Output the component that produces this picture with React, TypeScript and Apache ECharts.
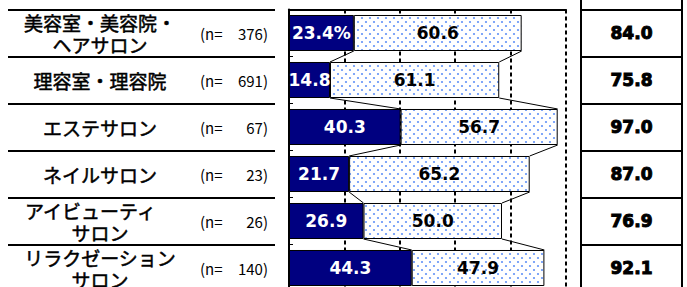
import React, { useEffect, useRef } from "react";
import * as echarts from "echarts";

const categories = [
  "美容室・美容院・\nヘアサロン",
  "理容室・理容院",
  "エステサロン",
  "ネイルサロン",
  "アイビューティ　\nサロン",
  "リラクゼーション\nサロン",
];
const sampleSizes = [376, 691, 67, 23, 26, 140];
const strongValues = [23.4, 14.8, 40.3, 21.7, 26.9, 44.3];
const weakValues = [60.6, 61.1, 56.7, 65.2, 50.0, 47.9];
const totals = [84.0, 75.8, 97.0, 87.0, 76.9, 92.1];
const xMin = 0;
const xMax = 100;
const xStep = 20;

const BAR_RATIO = 0.766;
const NUM_FONT = "'DejaVu Sans', sans-serif";
const JP_FONT = "'Noto Sans CJK JP', sans-serif";

function makeDots(): string {
  const c = document.createElement("canvas");
  c.width = 8;
  c.height = 8;
  const ctx = c.getContext("2d")!;
  ctx.fillStyle = "#ffffff";
  ctx.fillRect(0, 0, 8, 8);
  ctx.fillStyle = "#6292f7";
  [
    [2, 2],
    [6, 6],
  ].forEach(([x, y]) => {
    ctx.beginPath();
    ctx.arc(x, y, 1.1, 0, Math.PI * 2);
    ctx.fill();
  });
  return c.toDataURL();
}

export default function App() {
  const ref = useRef<HTMLDivElement>(null);
  useEffect(() => {
    if (!ref.current) return;
    const chart = echarts.init(ref.current, undefined, { renderer: "svg" });
    const dots = makeDots();
    const connectorData = strongValues.slice(0, -1).map((s, i) => [
      s,
      s + weakValues[i],
      i,
      strongValues[i + 1],
      strongValues[i + 1] + weakValues[i + 1],
      i + 1,
    ]);
    const black = "#000";
    const option: any = {
      animation: false,
      backgroundColor: "#fff",
      grid: [
        { left: 289, top: 9.5, width: 277, height: 282, outerBoundsMode: "none", containLabel: false },
        { left: 8, top: 9.5, width: 267, height: 282, outerBoundsMode: "none", containLabel: false },
        {
          left: 581,
          top: -37.5,
          width: 101,
          height: 329,
          show: true,
          borderColor: black,
          borderWidth: 2,
          backgroundColor: "transparent",
          outerBoundsMode: "none",
          containLabel: false,
        },
      ],
      xAxis: [
        {
          gridIndex: 0,
          type: "value",
          position: "top",
          min: xMin,
          max: xMax,
          interval: xStep,
          axisLine: { show: true, lineStyle: { color: black, width: 2 } },
          axisTick: { show: false },
          axisLabel: { show: false },
          splitLine: {
            show: true,
            lineStyle: { color: black, width: 2, type: [4, 3] },
          },
        },
        { gridIndex: 1, type: "value", show: false },
        { gridIndex: 2, type: "value", show: false },
      ],
      yAxis: [
        {
          gridIndex: 0,
          type: "category",
          data: categories,
          inverse: true,
          axisLine: { show: true, lineStyle: { color: black, width: 2 } },
          axisTick: {
            show: true,
            inside: true,
            length: 4,
            interval: 0,
            lineStyle: { color: black, width: 1 },
          },
          splitLine: { show: false },
          axisLabel: {
            show: true,
            interval: 0,
            margin: 189,
            align: "center",
            fontSize: 19,
            lineHeight: 22,
            color: black,
            textBorderColor: black,
            textBorderWidth: 0.5,
            fontFamily: JP_FONT,
          },
        },
        {
          gridIndex: 0,
          type: "category",
          data: sampleSizes.map(String),
          inverse: true,
          position: "left",
          axisLine: { show: false },
          axisTick: { show: false },
          splitLine: { show: false },
          axisLabel: {
            show: true,
            interval: 0,
            margin: 21,
            align: "right",
            formatter: (v: string) => `{p|(n=}{v|${v}}{q|)}`,
            rich: {
              p: { width: 28, align: "left", fontSize: 15, color: black, fontFamily: JP_FONT },
              v: { width: 35, align: "right", fontSize: 15, color: black, fontFamily: JP_FONT },
              q: { fontSize: 15, color: black, fontFamily: JP_FONT },
            },
          },
        },
        {
          gridIndex: 1,
          type: "category",
          data: categories,
          inverse: true,
          axisLine: { show: false },
          axisTick: { show: false },
          axisLabel: { show: false },
          splitLine: { show: true, interval: 0, lineStyle: { color: black, width: 2 } },
        },
        {
          gridIndex: 2,
          type: "category",
          data: ["", ...totals.map((t) => t.toFixed(1))],
          inverse: true,
          axisLine: { show: false },
          axisTick: { show: false },
          splitLine: { show: true, interval: 0, lineStyle: { color: black, width: 2 } },
          axisLabel: {
            show: true,
            interval: 0,
            inside: true,
            margin: 50.5,
            align: "center",
            fontFamily: NUM_FONT,
            fontWeight: "bold",
            fontSize: 17,
            color: black,
            textBorderColor: black,
            textBorderWidth: 1,
          },
        },
      ],
      series: [
        {
          type: "bar",
          name: "strong",
          stack: "total",
          xAxisIndex: 0,
          yAxisIndex: 0,
          barWidth: `${BAR_RATIO * 100}%`,
          data: strongValues,
          itemStyle: { color: "#000080", borderColor: black, borderWidth: 1 },
          label: {
            show: true,
            position: "inside",
            color: "#fff",
            fontFamily: NUM_FONT,
            fontWeight: "bold",
            fontSize: 17,
            formatter: (p: any) =>
              p.dataIndex === 0 ? `${p.value.toFixed(1)}%` : p.value.toFixed(1),
          },
          z: 3,
        },
        {
          type: "bar",
          name: "weak",
          stack: "total",
          xAxisIndex: 0,
          yAxisIndex: 0,
          barWidth: `${BAR_RATIO * 100}%`,
          data: weakValues,
          itemStyle: {
            color: { image: dots, repeat: "repeat", imageWidth: 8, imageHeight: 8 },
            borderColor: black,
            borderWidth: 1,
          },
          label: {
            show: true,
            position: "inside",
            color: black,
            fontFamily: NUM_FONT,
            fontWeight: "bold",
            fontSize: 17,
            formatter: (p: any) => p.value.toFixed(1),
          },
          z: 3,
        },
        {
          type: "custom",
          xAxisIndex: 0,
          yAxisIndex: 0,
          clip: false,
          z: 4,
          encode: { x: [0, 1, 3, 4], y: [2, 5] },
          data: connectorData,
          renderItem: (params: any, api: any) => {
            const i = api.value(2);
            const j = api.value(5);
            const bandH = api.size([0, 1])[1];
            const half = (bandH * BAR_RATIO) / 2;
            const a0 = api.coord([api.value(0), i]);
            const a1 = api.coord([api.value(3), j]);
            const b0 = api.coord([api.value(1), i]);
            const b1 = api.coord([api.value(4), j]);
            const st = { stroke: black, lineWidth: 1 };
            return {
              type: "group",
              children: [
                {
                  type: "line",
                  shape: { x1: a0[0], y1: a0[1] + half, x2: a1[0], y2: a1[1] - half },
                  style: st,
                },
                {
                  type: "line",
                  shape: { x1: b0[0], y1: b0[1] + half, x2: b1[0], y2: b1[1] - half },
                  style: st,
                },
              ],
            };
          },
        },
      ],
    };
    chart.setOption(option);
    return () => chart.dispose();
  }, []);
  return (
    <div
      ref={ref}
      style={{ position: "absolute", left: 0, top: 0, width: 687, height: 287 }}
    />
  );
}
